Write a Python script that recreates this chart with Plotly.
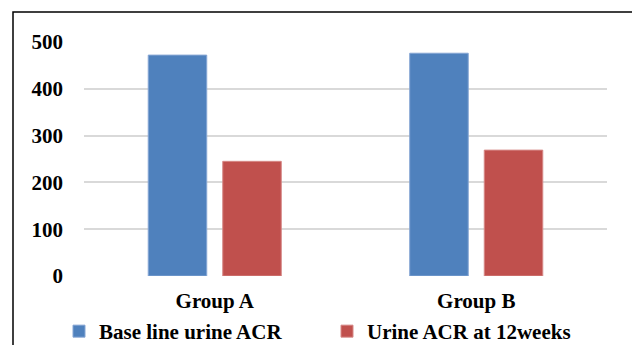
import plotly.graph_objects as go

categories = ["Group A", "Group B"]
baseline_acr = [472, 476]
week12_acr = [245, 269]
y_ticks = [0, 100, 200, 300, 400, 500]
series_names = ["Base line urine ACR", "Urine ACR at 12weeks"]

W, H = 632, 345
L, R, T, B = 84, 25, 42, 69
pw, ph = W - L - R, H - T - B

def px_x(x):
    return (x - L) / pw

def px_y(y):
    return (H - B - y) / ph

FAM = "Liberation Serif, Times New Roman, serif"
FONT = dict(family=FAM, size=21, color="black")

fig = go.Figure()
fig.add_trace(go.Bar(x=categories, y=baseline_acr, name=series_names[0],
                     marker=dict(color="#4F81BD", line=dict(color="#86a6d4", width=1))))
fig.add_trace(go.Bar(x=categories, y=week12_acr, name=series_names[1],
                     marker=dict(color="#C0504D", line=dict(color="#d68886", width=1))))

fig.update_layout(
    width=W, height=H,
    margin=dict(l=L, r=R, t=T, b=B, pad=0, autoexpand=False),
    paper_bgcolor="white", plot_bgcolor="white",
    font=FONT,
    barmode="group", bargap=0.43, bargroupgap=0.215,
    showlegend=True,
    legend=dict(orientation="h", x=px_x(59), xanchor="left", y=px_y(311), yanchor="top",
                font=dict(family=FAM, size=21, color="black", weight="bold"),
                entrywidth=223, entrywidthmode="pixels", traceorder="normal",
                bgcolor="rgba(0,0,0,0)"),
    xaxis=dict(showgrid=False, showline=False, zeroline=False, ticks="",
               ticklabelstandoff=10,
               tickfont=dict(family=FAM, size=21, color="black", weight="bold")),
    yaxis=dict(range=[0, 500], tickvals=y_ticks, showgrid=True, gridcolor="#d9d9d9",
               gridwidth=1.5, zeroline=False, showline=False, ticks="",
               ticklabelstandoff=20,
               tickfont=dict(family=FAM, size=21, color="black", weight="bold")),
    shapes=[dict(type="rect", xref="paper", yref="paper",
                 x0=px_x(13), x1=px_x(640), y0=px_y(360), y1=px_y(12),
                 line=dict(color="black", width=1.5), fillcolor="rgba(0,0,0,0)", layer="above")],
)

fig.write_html("out.html", config={"displayModeBar": False},
               post_script="document.body.style.margin='0';document.body.style.overflow='hidden';")
